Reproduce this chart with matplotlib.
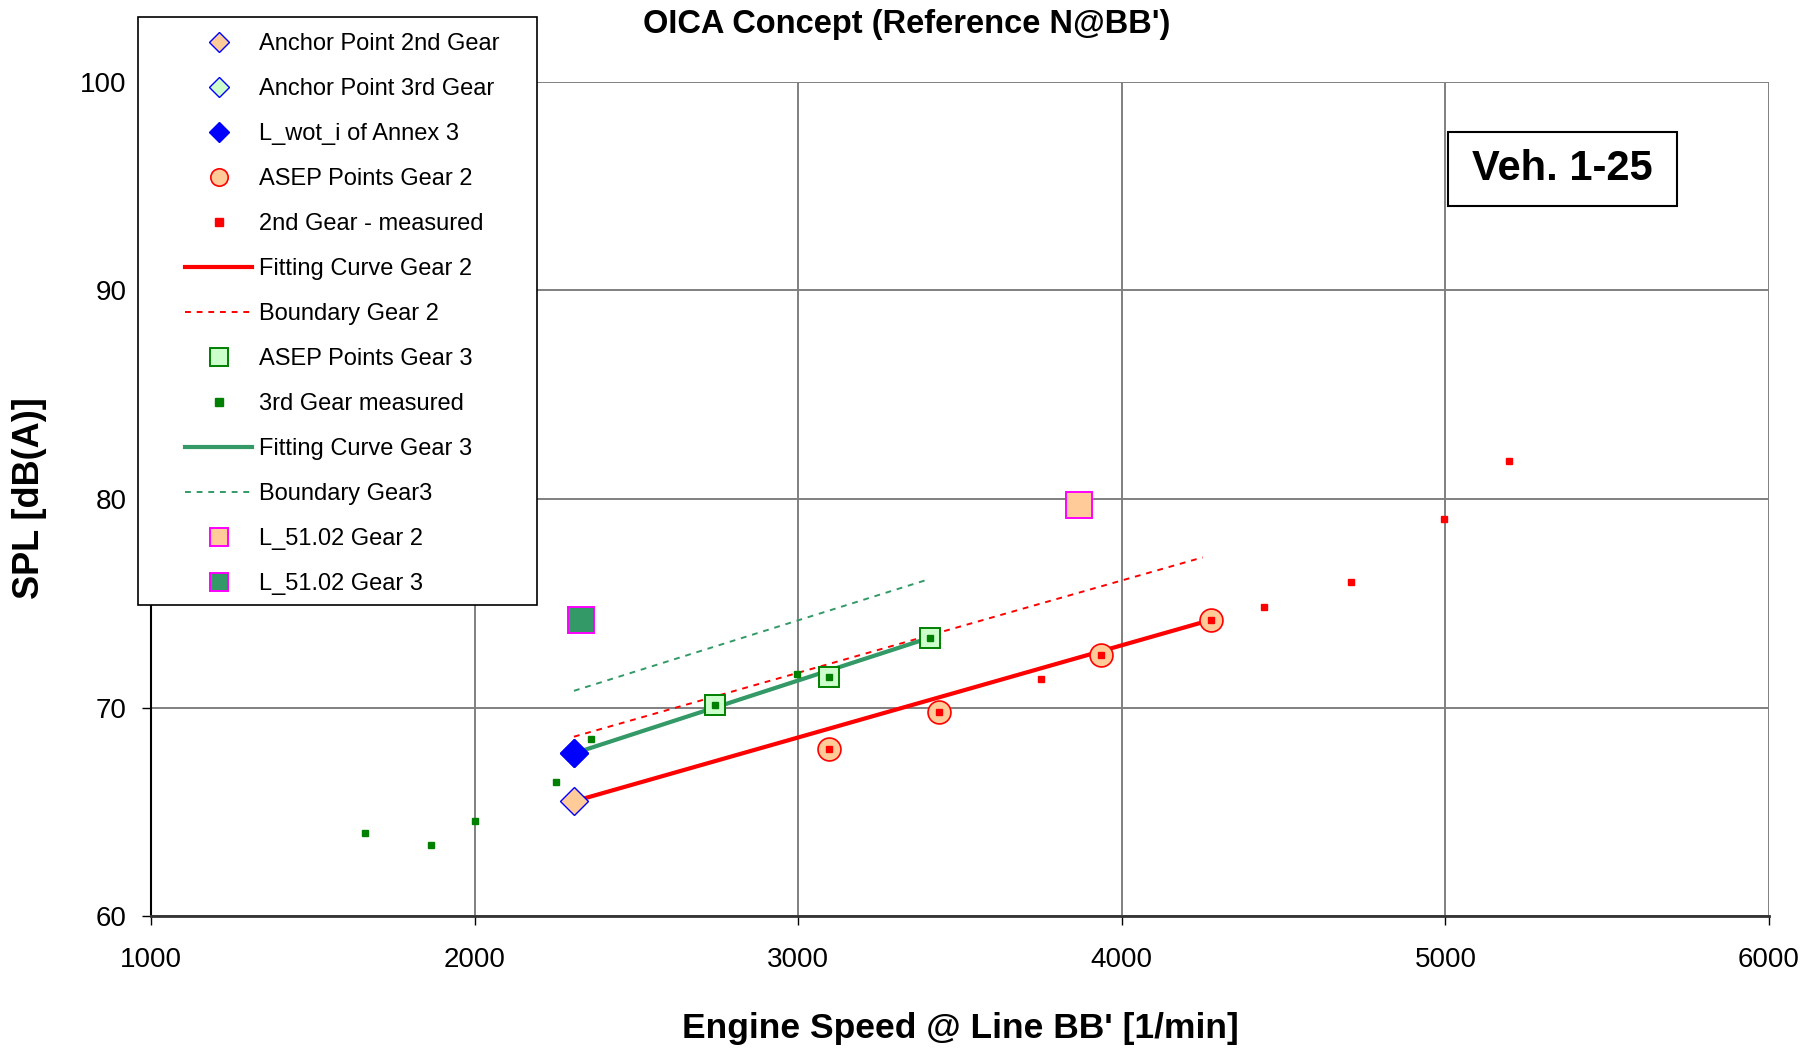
import matplotlib
matplotlib.use("Agg")
import matplotlib.pyplot as plt
from matplotlib.patches import Rectangle

plt.rcParams['font.family'] = ['Liberation Sans', 'DejaVu Sans']

# data
anchor2_x = [2307]
anchor2_y = [65.5]
anchor3_x = [2307]
anchor3_y = [67.8]
wot_x = [2307]
wot_y = [67.8]

asep2_x = [3096, 3436, 3936, 4275]
asep2_y = [68.0, 69.8, 72.5, 74.2]
meas2_x = [3096, 3436, 3750, 3936, 4275, 4439, 4707, 4996, 5196]
meas2_y = [68.0, 69.8, 71.35, 72.5, 74.2, 74.8, 76.0, 79.05, 81.8]
fit2_x = [2307, 4275]
fit2_y = [65.5, 74.2]
bound2_x = [2307, 4250]
bound2_y = [68.6, 77.2]

asep3_x = [2743, 3096, 3407]
asep3_y = [70.1, 71.45, 73.35]
meas3_x = [1661, 1864, 2000, 2250, 2360, 2743, 2996, 3096, 3407]
meas3_y = [64.0, 63.4, 64.55, 66.45, 68.5, 70.1, 71.6, 71.45, 73.35]
fit3_x = [2307, 3407]
fit3_y = [67.8, 73.35]
bound3_x = [2307, 3393]
bound3_y = [70.8, 76.1]

l51_g2_x = [3868]
l51_g2_y = [79.7]
l51_g3_x = [2329]
l51_g3_y = [74.2]

x_ticks = [1000, 2000, 3000, 4000, 5000, 6000]
y_ticks = [60, 70, 80, 90, 100]

PEACH = '#FFCC99'
LGREEN = '#CCFFCC'
SEA = '#339966'

fig = plt.figure(figsize=(18.12, 10.49), dpi=100)
ax = fig.add_axes([151/1812, 1-916/1049, 1618/1812, 834/1049])

h = []
h += ax.plot(anchor2_x, anchor2_y, 'D', ms=14, mfc=PEACH, mec='#0000FF', mew=1, zorder=6,
             label='Anchor Point 2nd Gear')
h += ax.plot(anchor3_x, anchor3_y, 'D', ms=14, mfc=LGREEN, mec='#0000FF', mew=1, zorder=5,
             label='Anchor Point 3rd Gear')
h += ax.plot(wot_x, wot_y, 'D', ms=14, mfc='#0000FF', mec='#0000FF', zorder=6,
             label='L_wot_i of Annex 3')
h += ax.plot(asep2_x, asep2_y, 'o', ms=16.5, mfc=PEACH, mec='#FF0000', mew=1.2, zorder=5,
             label='ASEP Points Gear 2')
h += ax.plot(meas2_x, meas2_y, 's', ms=5, mfc='#FF0000', mec='#FF0000', ls='none', zorder=7,
             label='2nd Gear - measured')
h += ax.plot(fit2_x, fit2_y, '-', color='#FF0000', lw=3, zorder=4,
             label='Fitting Curve Gear 2')
h += ax.plot(bound2_x, bound2_y, '--', color='#FF0000', lw=1.4, dashes=(3, 3), zorder=3,
             label='Boundary Gear 2')
h += ax.plot(asep3_x, asep3_y, 's', ms=15, mfc=LGREEN, mec='#008000', mew=1.4, ls='none', zorder=5,
             label='ASEP Points Gear 3')
h += ax.plot(meas3_x, meas3_y, 's', ms=5, mfc='#008000', mec='#008000', ls='none', zorder=7,
             label='3rd Gear measured')
h += ax.plot(fit3_x, fit3_y, '-', color=SEA, lw=3, zorder=4,
             label='Fitting Curve Gear 3')
h += ax.plot(bound3_x, bound3_y, '--', color=SEA, lw=1.4, dashes=(3, 3), zorder=3,
             label='Boundary Gear3')
h += ax.plot(l51_g2_x, l51_g2_y, 's', ms=19, mfc=PEACH, mec='#FF00FF', mew=1.4, zorder=5,
             label='L_51.02 Gear 2')
h += ax.plot(l51_g3_x, l51_g3_y, 's', ms=19, mfc=SEA, mec='#FF00FF', mew=1.4, zorder=5,
             label='L_51.02 Gear 3')

ax.set_xlim(1000, 6000)
ax.set_ylim(60, 100)
ax.set_xticks(x_ticks)
ax.set_yticks(y_ticks)
ax.grid(True, color='#808080', lw=1.4)
ax.set_axisbelow(True)
for s in ['top', 'right']:
    ax.spines[s].set_visible(False)
ax.spines['bottom'].set_color('#333333')
ax.spines['bottom'].set_linewidth(2)
ax.spines['left'].set_color('black')
ax.spines['left'].set_linewidth(1.5)
ax.tick_params(axis='x', length=6.5, width=1, labelsize=20, pad=16)
ax.tick_params(axis='y', length=6.5, width=1, labelsize=20, pad=11)

ax.set_xlabel("Engine Speed @ Line BB' [1/min]", fontsize=25.5, fontweight='bold')
ax.xaxis.set_label_coords(0.5, -0.135)
ax.xaxis.label.set_verticalalignment('center')
ax.set_ylabel('SPL [dB(A)]', fontsize=26, fontweight='bold')
ax.yaxis.set_label_coords(-0.0754, 0.501)
ax.yaxis.label.set_verticalalignment('center')

fig.text(907/1812, 1-25/1049, "OICA Concept (Reference N@BB')", fontsize=23.5,
         fontweight='bold', ha='center', va='center')

# Veh. box
ax.add_patch(Rectangle((0.8016, 0.8513), 0.1415, 0.0887, transform=ax.transAxes,
                       facecolor='white', edgecolor='black', lw=1.5, zorder=8))
ax.text(0.8724, 0.8957, 'Veh. 1-25', transform=ax.transAxes, fontsize=30,
        fontweight='bold', ha='center', va='center', zorder=9)

# legend box
fig.add_artist(Rectangle((137.5/1812, 1-605/1049), 399.5/1812, 588/1049,
                         transform=fig.transFigure, facecolor='white',
                         edgecolor='black', lw=1.2, zorder=4))
leg = fig.legend(handles=h, loc='upper left', bbox_to_anchor=(185/1812, 1-33/1049),
                 frameon=False, borderpad=0, fontsize=17, labelspacing=0.975,
                 handlelength=2.85, handletextpad=0.3, numpoints=1, borderaxespad=0)
leg.set_zorder(5)
leg_ms = [10.5, 10.5, 10.5, 12.5, 5.5, None, None, 12.5, 5.5, None, None, 12.5, 12.5]
for lh, m in zip(leg.legend_handles, leg_ms):
    if m is not None:
        lh.set_markersize(m)

fig.savefig('out.png', dpi=100)
